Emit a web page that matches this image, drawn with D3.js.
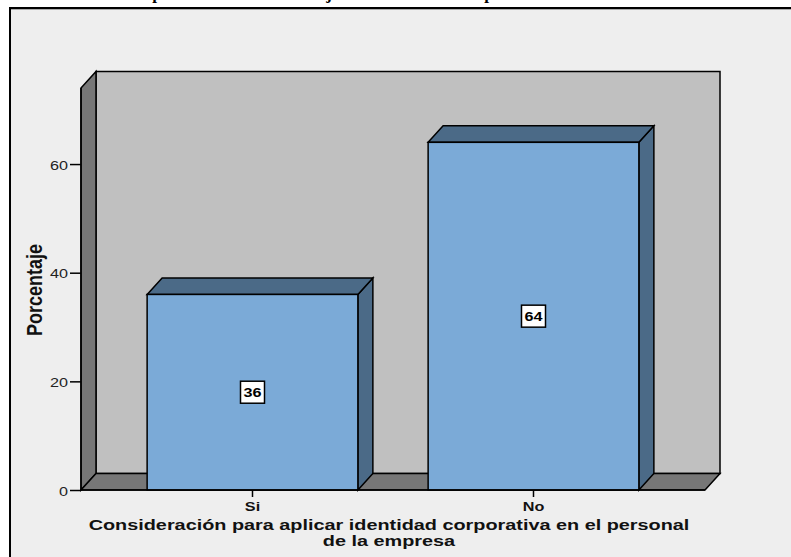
<!DOCTYPE html>
<html><head><meta charset="utf-8">
<script src="https://cdn.jsdelivr.net/npm/d3@7"></script>
<style>body{margin:0;background:#fff}svg{display:block}</style>
</head><body>
<script>
const categories = ["Si", "No"];
const values = [36, 64];
const yTicks = [0, 20, 40, 60];
const yLabel = "Porcentaje";
const xLabelLines = ["Consideración para aplicar identidad corporativa en el personal", "de la empresa"];
const titleFragments = [{t:"p", x:157}, {t:"j", x:329}, {t:"p", x:489}];

const W = 791, H = 557;
const svg = d3.select("body").append("svg").attr("width", W).attr("height", H);
const SX = 1.2;

// frame
svg.append("rect").attr("x",10).attr("y",8).attr("width",W+20).attr("height",H+20)
  .attr("fill","#eeeeee").attr("stroke","#000").attr("stroke-width",2);
svg.append("line").attr("x1",11).attr("x2",W).attr("y1",9.5).attr("y2",9.5).attr("stroke","#aaa").attr("stroke-width",1);

// title fragments (mostly cut off at the top, as in the reference)
titleFragments.forEach(f => svg.append("text").attr("x",f.x).attr("y",-1).attr("text-anchor","middle")
  .attr("font-family","Liberation Serif").attr("font-weight","bold").attr("font-size",17).text(f.t));

const x0 = 81, yBase = 490, dx = 15, dy = 16.5;
const y = d3.scaleLinear().domain([0, 74]).range([yBase, 88]);
const x = d3.scaleBand().domain(categories).range([112, 674]).paddingInner(0.25).paddingOuter(0.125);
const xEnd = 705;
const yTop = y(74);

const g = svg.append("g");
const line = d3.line();
// back wall
g.append("path").attr("d", line([[x0+dx,yTop-dy],[xEnd+dx,yTop-dy],[xEnd+dx,yBase-dy],[x0+dx,yBase-dy]])+"Z")
  .attr("fill","#c0c0c0").attr("stroke","#000").attr("stroke-width",1.5);
// left wall
g.append("path").attr("d", line([[x0,yTop],[x0+dx,yTop-dy],[x0+dx,yBase-dy],[x0,yBase]])+"Z")
  .attr("fill","#777777").attr("stroke","#000").attr("stroke-width",1.5);
// floor
g.append("path").attr("d", line([[x0,yBase],[x0+dx,yBase-dy],[xEnd+dx,yBase-dy],[xEnd,yBase]])+"Z")
  .attr("fill","#777777").attr("stroke","#000").attr("stroke-width",1.5);

// bars
const bars = g.selectAll("g.bar").data(categories.map((c,i)=>({c, v:values[i]}))).join("g");
bars.each(function(d){
  const s = d3.select(this);
  const xl = x(d.c), xr = x(d.c)+x.bandwidth(), yt = y(d.v);
  s.append("path").attr("d", line([[xr,yt],[xr+dx,yt-dy],[xr+dx,yBase-dy],[xr,yBase]])+"Z")
    .attr("fill","#4b6a87").attr("stroke","#000").attr("stroke-width",1.5);
  s.append("path").attr("d", line([[xl,yt],[xl+dx,yt-dy],[xr+dx,yt-dy],[xr,yt]])+"Z")
    .attr("fill","#4b6a87").attr("stroke","#000").attr("stroke-width",1.5);
  s.append("rect").attr("x",xl).attr("y",yt).attr("width",xr-xl).attr("height",yBase-yt)
    .attr("fill","#7baad7").attr("stroke","#000").attr("stroke-width",1.5);
  const cx = xl + x.bandwidth()/2, cy = (yt+yBase)/2;
  s.append("rect").attr("x",cx-12).attr("y",cy-11).attr("width",24).attr("height",22)
    .attr("fill","#fff").attr("stroke","#000").attr("stroke-width",1.5);
  s.append("text").attr("transform",`translate(${cx},${cy+5}) scale(${SX},1)`).attr("text-anchor","middle")
    .attr("font-family","Liberation Sans").attr("font-weight","bold").attr("font-size",13.5).text(d.v);
});

// y axis
const yAxis = d3.axisLeft(y).tickValues(yTicks).tickSize(11).tickPadding(2).tickFormat(d3.format("d"));
const ya = svg.append("g").attr("transform",`translate(${x0},0)`).call(yAxis);
ya.select(".domain").attr("d", `M0,${yTop}V${yBase}`).attr("stroke","#000").attr("stroke-width",1.5);
ya.selectAll(".tick line").attr("stroke","#000").attr("stroke-width",1.5);
ya.selectAll(".tick text").attr("font-family","Liberation Sans").attr("font-size",13.5).attr("fill","#222")
  .attr("dy",null).attr("y",5)
  .each(function(){ const t=d3.select(this); const xx=+t.attr("x"); t.attr("x",null).attr("transform",`translate(${xx},0) scale(${SX},1)`); });

// x axis
const xAxis = d3.axisBottom(x).tickSize(7).tickPadding(3);
const xa = svg.append("g").attr("transform",`translate(0,${yBase})`).call(xAxis);
xa.select(".domain").attr("d", `M${x0},0H${xEnd}`).attr("stroke","#000").attr("stroke-width",1.5);
xa.selectAll(".tick line").attr("stroke","#000").attr("stroke-width",1.5);
xa.selectAll(".tick text").attr("font-family","Liberation Sans").attr("font-weight","bold").attr("font-size",13.5)
  .attr("fill","#111").attr("dy",null).attr("y",null).attr("transform",`translate(0,21) scale(${SX},1)`);

// axis titles
svg.append("text").attr("transform",`translate(42,290) scale(${SX},1) rotate(-90)`).attr("text-anchor","middle")
  .attr("font-family","Liberation Sans").attr("font-weight","bold").attr("font-size",18).attr("fill","#111").text(yLabel);
xLabelLines.forEach((l,i)=>svg.append("text").attr("transform",`translate(389,${530+i*16}) scale(1.28,1)`)
  .attr("text-anchor","middle").attr("font-family","Liberation Sans").attr("font-weight","bold")
  .attr("font-size",15.5).attr("fill","#111").text(l));
</script>
</body></html>
